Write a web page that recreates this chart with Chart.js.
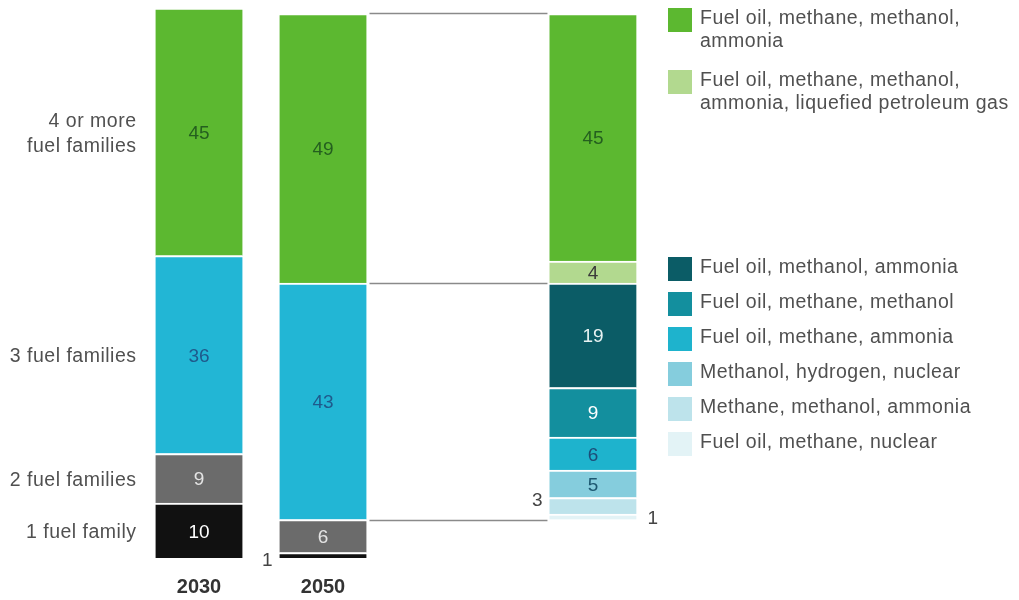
<!DOCTYPE html>
<html><head><meta charset="utf-8">
<script src="https://cdn.jsdelivr.net/npm/chart.js@4/dist/chart.umd.min.js"></script>
<style>html,body{margin:0;padding:0;background:#fff;}#wrap{width:1019px;height:600px;position:relative;}</style>
</head><body><div id="wrap"><canvas id="c" width="1019" height="600"></canvas></div>
<script>
// ---------- DATA ----------
const categories = ['2030', '2050', ''];          // third bar: breakdown of 2050 "3" and "4 or more" families
const familyNames = ['1 fuel family', '2 fuel families', '3 fuel families', ['4 or more', 'fuel families']];
const oneFamily        = [10, 1, null];
const twoFamilies      = [9, 6, null];
const threeFamilies    = [36, 43, null];
const fourPlusFamilies = [45, 49, null];

// breakdown of the 2050 bar (third column), bottom to top
const breakdownNames = [
  'Fuel oil, methane, nuclear',
  'Methane, methanol, ammonia',
  'Methanol, hydrogen, nuclear',
  'Fuel oil, methane, ammonia',
  'Fuel oil, methane, methanol',
  'Fuel oil, methanol, ammonia',
  'Fuel oil, methane, methanol, ammonia, liquefied petroleum gas',
  'Fuel oil, methane, methanol, ammonia'
];
const breakdownValues = [1, 3, 5, 6, 9, 19, 4, 45];

// ---------- STYLE / LAYOUT ----------
const familyColors = ['#111111', '#6b6b6b', '#22b6d5', '#5cb830'];
const familyLabelColors = ['#ffffff', '#e4e4e4', '#1f5a8c', '#245f1f'];
const breakdownColors = ['#e3f3f6', '#bde3eb', '#85cddd', '#1eb3cd', '#138f9e', '#0b5c66', '#b2d98f', '#5cb830'];
const breakdownLabelColors = ['#444', '#444', '#1d5770', '#1d4d78', '#ffffff', '#e8f2f2', '#3a3a3a', '#245f1f'];
const slots = [0, 1, 3.177];          // horizontal slot of each column (1 unit = gap 2030 -> 2050)
const FONT = "'Liberation Sans', Arial, sans-serif";

const breakdownIdx = 2;
const baseValue = oneFamily[1] + twoFamilies[1];   // breakdown starts above 1 + 2 families of 2050

function pts(arr) {
  const out = [];
  arr.forEach((v, i) => { if (v !== null && v !== undefined) out.push({ x: slots[i], y: v }); });
  return out;
}
function one(idx, v) { const a = categories.map(() => null); a[idx] = v; return a; }

const common = { borderColor: '#ffffff', borderWidth: { top: 2, left: 0, right: 0, bottom: 0 }, borderSkipped: false, stack: 's' };
const datasets = [];
const famArrays = [oneFamily, twoFamilies, threeFamilies, fourPlusFamilies];
[0, 1].forEach(k => datasets.push(Object.assign({}, common, { label: familyNames[k], data: pts(famArrays[k]), backgroundColor: familyColors[k], _lc: familyLabelColors[k], _fam: k })));
datasets.push({ label: '', data: pts(one(breakdownIdx, baseValue)), backgroundColor: 'rgba(0,0,0,0)', borderWidth: 0, stack: 's', _hidden: true });
datasets.push(Object.assign({}, common, { label: familyNames[2], data: pts(threeFamilies), backgroundColor: familyColors[2], _lc: familyLabelColors[2], _fam: 2 }));
for (let k = 0; k < 6; k++) datasets.push(Object.assign({}, common, { label: breakdownNames[k], data: pts(one(breakdownIdx, breakdownValues[k])), backgroundColor: breakdownColors[k], _lc: breakdownLabelColors[k], _bd: k }));
datasets.push(Object.assign({}, common, { label: familyNames[3], data: pts(fourPlusFamilies), backgroundColor: familyColors[3], _lc: familyLabelColors[3], _fam: 3 }));
for (let k = 6; k < 8; k++) datasets.push(Object.assign({}, common, { label: breakdownNames[k], data: pts(one(breakdownIdx, breakdownValues[k])), backgroundColor: breakdownColors[k], _lc: breakdownLabelColors[k], _bd: k }));

// labels drawn outside small segments
const outside = [
  { label: '1 fuel family', slot: 1, side: 'left', dy: 6 },
  { label: 'Methane, methanol, ammonia', slot: 2, side: 'left', dy: -5 },
  { label: 'Fuel oil, methane, nuclear', slot: 2, side: 'right', dy: 2 }
];
const legendGroups = [
  { top: 8, items: [7, 6] },
  { top: 257, items: [5, 4, 3, 2, 1, 0] }
];

function setSpacing(ctx, s) { if ('letterSpacing' in ctx) ctx.letterSpacing = s; }
function wrap(ctx, text, maxW) {
  const words = text.split(' '); const lines = []; let cur = '';
  words.forEach(w => { const t = cur ? cur + ' ' + w : w; if (ctx.measureText(t).width > maxW && cur) { lines.push(cur); cur = w; } else cur = t; });
  if (cur) lines.push(cur); return lines;
}

const overlay = {
  id: 'overlay',
  beforeDatasetsDraw(chart) {
    const ctx = chart.ctx, ys = chart.scales.y;
    const m1 = chart.getDatasetMeta(0).data[1];
    const bdMeta = chart.getDatasetMeta(2).data[0];
    const x1 = m1.x + m1.width / 2 + 3, x2 = bdMeta.x - bdMeta.width / 2 - 2;
    const levels = [baseValue, baseValue + threeFamilies[1], baseValue + threeFamilies[1] + fourPlusFamilies[1]];
    ctx.save(); ctx.strokeStyle = '#8a8a8a'; ctx.lineWidth = 1.3;
    levels.forEach(v => { const y = Math.round(ys.getPixelForValue(v)) + 0.5; ctx.beginPath(); ctx.moveTo(x1, y); ctx.lineTo(x2, y); ctx.stroke(); });
    ctx.restore();
  },
  afterDatasetsDraw(chart) {
    const ctx = chart.ctx;
    ctx.save();
    chart.data.datasets.forEach((ds, di) => {
      if (ds._hidden) return;
      const meta = chart.getDatasetMeta(di);
      meta.data.forEach((el, j) => {
        const val = ds.data[j].y; const slot = slots.indexOf(ds.data[j].x);
        const lbl = Array.isArray(ds.label) ? ds.label.join(' ') : ds.label;
        const o = outside.find(q => q.label === lbl && q.slot === slot);
        const yc = (el.y + el.base) / 2;
        ctx.font = '19px ' + FONT; ctx.textBaseline = 'middle'; setSpacing(ctx, '0px');
        if (o) {
          ctx.fillStyle = '#444';
          if (o.side === 'left') { ctx.textAlign = 'right'; ctx.fillText(String(val), el.x - el.width / 2 - 7, yc + o.dy); }
          else { ctx.textAlign = 'left'; ctx.fillText(String(val), el.x + el.width / 2 + 11, yc + o.dy); }
        } else {
          ctx.fillStyle = ds._lc; ctx.textAlign = 'center'; ctx.fillText(String(val), el.x, yc + 2);
        }
      });
    });
    ctx.font = '19.5px ' + FONT; ctx.fillStyle = '#505050'; ctx.textAlign = 'right'; ctx.textBaseline = 'middle'; setSpacing(ctx, '0.5px');
    chart.data.datasets.forEach((ds, di) => {
      if (ds._fam === undefined) return;
      const el = chart.getDatasetMeta(di).data[0]; if (!el) return;
      const lines = Array.isArray(ds.label) ? ds.label : [ds.label];
      const yc = (el.y + el.base) / 2 + 2, lh = 25;
      lines.forEach((t, k) => ctx.fillText(t, el.x - el.width / 2 - 19, yc + (k - (lines.length - 1) / 2) * lh));
    });
    ctx.font = 'bold 20px ' + FONT; ctx.fillStyle = '#333'; ctx.textAlign = 'center'; setSpacing(ctx, '0px');
    const m0 = chart.getDatasetMeta(0).data;
    categories.forEach((c, i) => { if (c && m0[i]) ctx.fillText(c, m0[i].x, 587); });
    ctx.font = '19.5px ' + FONT; ctx.textAlign = 'left'; setSpacing(ctx, '0.5px');
    legendGroups.forEach(g => {
      let y = g.top;
      g.items.forEach(k => {
        ctx.fillStyle = breakdownColors[k]; ctx.fillRect(668, y, 24, 24);
        ctx.fillStyle = '#505050';
        const lines = wrap(ctx, breakdownNames[k], 320);
        lines.forEach((t, li) => ctx.fillText(t, 700, y + 11 + li * 23));
        y += 35 + (lines.length - 1) * 27;
      });
    });
    ctx.restore();
  }
};

new Chart(document.getElementById('c'), {
  type: 'bar',
  data: { datasets },
  options: {
    responsive: false, animation: false,
    layout: { padding: 0 },
    datasets: { bar: { barThickness: 87 } },
    plugins: { legend: { display: false }, tooltip: { enabled: false } },
    scales: {
      x: { type: 'linear', stacked: true, display: false, offset: false, min: -199 / 124, max: 820 / 124 },
      y: { stacked: true, display: false, min: -42 / 5.5, max: 100 + 8 / 5.5 }
    }
  },
  plugins: [overlay]
});
</script></body></html>
